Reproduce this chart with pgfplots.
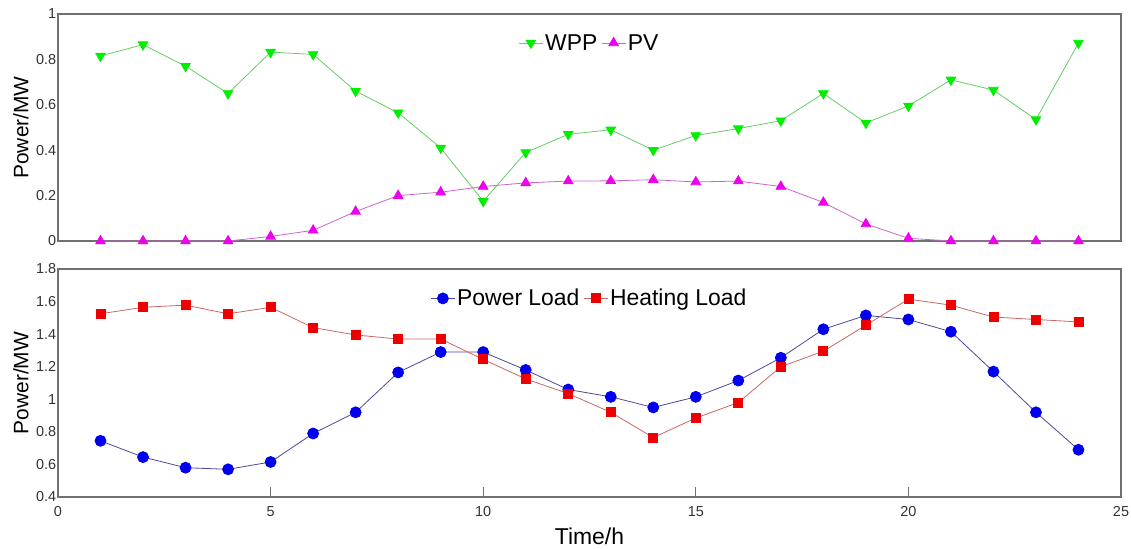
\documentclass[border=0pt]{standalone}
\usepackage{pgfplots}
\pgfplotsset{compat=1.18}
\usepackage{fontspec}
\setmainfont{Liberation Sans}
\definecolor{wppm}{HTML}{00EE00}
\definecolor{wppl}{HTML}{66CC66}
\definecolor{pvm}{HTML}{EE00EE}
\definecolor{pvl}{HTML}{CC66CC}
\definecolor{plm}{HTML}{0000EE}
\definecolor{pll}{HTML}{4A4A99}
\definecolor{hlm}{HTML}{EE0000}
\definecolor{hll}{HTML}{CC6666}
\definecolor{axgray}{HTML}{707070}
\pgfplotsset{
  common/.style={
    scale only axis, width=1063bp,
    xmin=0, xmax=25,
    axis line style={axgray, line width=1.1bp},
    /pgf/number format/assume math mode=true,
    ticklabel style={font=\fontsize{14.5}{15}\selectfont, text=black!80},
    ytick style={draw=none},
    yticklabel style={xshift=2bp},
    every axis y label/.style={at={(rel axis cs:0,0.5)}, xshift=-37bp, anchor=center, rotate=90, font=\fontsize{21}{21}\selectfont},
    legend style={draw=none, fill=none, legend columns=2, font=\fontsize{23}{23}\selectfont, at={(0.5,0.93)}, anchor=north,
      /tikz/every even column/.append style={column sep=2bp}},
    legend image code/.code={
      \draw[mark repeat=2,mark phase=2] plot coordinates {(0cm,0cm) (0.42cm,0cm) (0.84cm,0cm)};},
    line width=0.8bp,
  }
}
\begin{document}
\begin{tikzpicture}[x=1bp,y=1bp]
\path[use as bounding box] (0,0) rectangle (1131,-549);
\begin{axis}[common, at={(58bp,-14bp)}, anchor=north west, height=227bp,
  ymin=0, ymax=1, ytick={0,0.2,0.4,0.6,0.8,1}, xtick=\empty,
  ylabel={Power/MW}]
\addplot[wppl, mark=triangle*, mark options={rotate=180, fill=wppm, draw=wppm}, mark size=5.5bp] coordinates {
(1,0.815)(2,0.865)(3,0.77)(4,0.65)(5,0.832)(6,0.822)(7,0.66)(8,0.565)(9,0.41)(10,0.175)(11,0.39)(12,0.47)(13,0.49)(14,0.40)(15,0.465)(16,0.495)(17,0.53)(18,0.65)(19,0.52)(20,0.595)(21,0.71)(22,0.665)(23,0.535)(24,0.872)};
\addlegendentry{WPP}
\addplot[pvl, mark=triangle*, mark options={fill=pvm, draw=pvm}, mark size=5.5bp] coordinates {
(1,0)(2,0)(3,0)(4,0)(5,0.02)(6,0.047)(7,0.13)(8,0.2)(9,0.215)(10,0.24)(11,0.256)(12,0.264)(13,0.265)(14,0.27)(15,0.26)(16,0.264)(17,0.24)(18,0.17)(19,0.075)(20,0.012)(21,0)(22,0)(23,0)(24,0)};
\addlegendentry{PV}
\end{axis}
\begin{axis}[common, at={(58bp,-269bp)}, anchor=north west, height=228bp,
  ymin=0.4, ymax=1.8, ytick={0.4,0.6,...,1.8},
  yticklabels={0.4,0.6,0.8,1,1.2,1.4,1.6,1.8},
  xtick={0,5,10,15,20,25}, xtick pos=bottom, tick align=inside, major tick length=10bp,
  xtick style={axgray, line width=1bp},
  xticklabel style={yshift=-6bp},
  xlabel={Time/h}, xlabel style={font=\fontsize{23}{23}\selectfont, yshift=-4bp},
  ylabel={Power/MW}]
\addplot[pll, mark=*, mark options={fill=plm, draw=plm}, mark size=5.5bp] coordinates {
(1,0.745)(2,0.645)(3,0.58)(4,0.57)(5,0.615)(6,0.79)(7,0.92)(8,1.165)(9,1.29)(10,1.29)(11,1.18)(12,1.06)(13,1.015)(14,0.95)(15,1.015)(16,1.115)(17,1.255)(18,1.43)(19,1.515)(20,1.49)(21,1.415)(22,1.17)(23,0.92)(24,0.69)};
\addlegendentry{Power Load}
\addplot[hll, mark=square*, mark options={fill=hlm, draw=hlm}, mark size=4.5bp] coordinates {
(1,1.525)(2,1.565)(3,1.578)(4,1.525)(5,1.565)(6,1.44)(7,1.395)(8,1.37)(9,1.37)(10,1.245)(11,1.125)(12,1.035)(13,0.92)(14,0.765)(15,0.885)(16,0.98)(17,1.2)(18,1.295)(19,1.455)(20,1.615)(21,1.578)(22,1.505)(23,1.49)(24,1.475)};
\addlegendentry{Heating Load}
\end{axis}
\end{tikzpicture}
\end{document}
